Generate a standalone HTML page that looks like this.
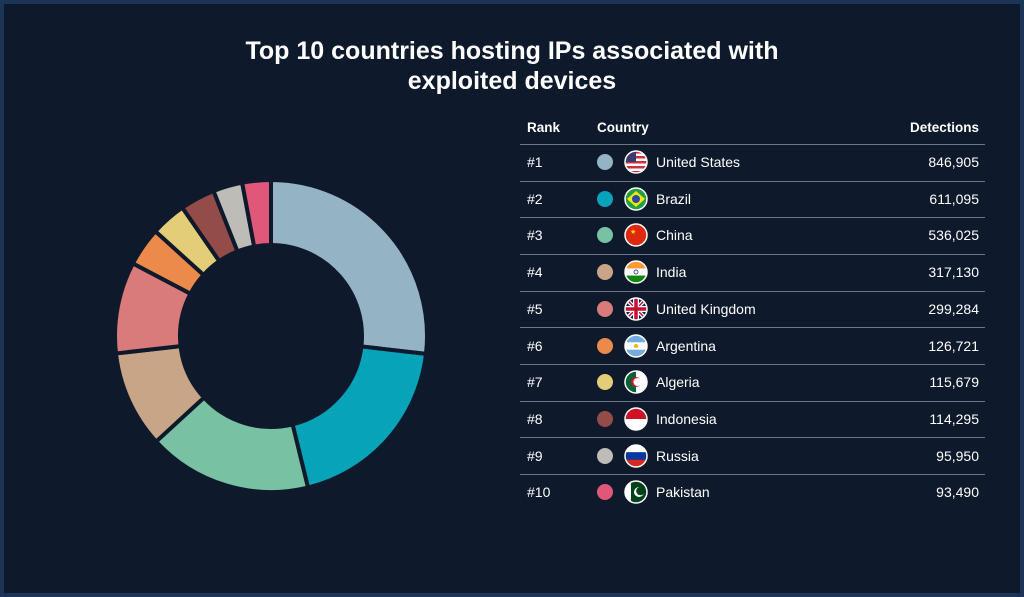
<!DOCTYPE html>
<html><head><meta charset="utf-8"><style>
html,body{margin:0;padding:0}
body{width:1024px;height:597px;background:#1c3457;font-family:"Liberation Sans",sans-serif;overflow:hidden}
#frame{position:absolute;left:4px;top:4px;width:1016px;height:589px;background:#0e1a2b}
#title{position:absolute;left:0;top:36px;width:1024px;text-align:center;color:#fff;font-weight:bold;font-size:25px;line-height:30px}
.t{position:absolute;color:#fff;font-size:14px}
.h{font-weight:bold;font-size:13.5px}
.line{position:absolute;left:520px;width:465px;height:1px;background:#6c7684}
</style></head><body>
<div id="frame"></div>
<div id="title">Top 10 countries hosting IPs associated with<br>exploited devices</div>
<svg id="donut" width="1024" height="597" style="position:absolute;left:0;top:0"></svg>
<div id="table"></div>
<script>
const countries=["United States","Brazil","China","India","United Kingdom","Argentina","Algeria","Indonesia","Russia","Pakistan"];
const detections=[846905,611095,536025,317130,299284,126721,115679,114295,95950,93490];
const colors=["#94b4c6","#06a3b9","#78c1a2","#c9a587","#d97a7b","#ec8a4b","#e3cd78","#934c48","#bdbcb6","#e0577a"];
const NS="http://www.w3.org/2000/svg";
const svg=document.getElementById('donut');
const cx=271,cy=336,R=156,r=91;
const total=detections.reduce((a,b)=>a+b,0);
let a0=0;
function pt(rad,a){return [cx+rad*Math.sin(a),cy-rad*Math.cos(a)];}
detections.forEach((v,i)=>{
  const a1=a0+v/total*2*Math.PI;
  const large=(a1-a0)>Math.PI?1:0;
  const [x1,y1]=pt(R,a0),[x2,y2]=pt(R,a1),[x3,y3]=pt(r,a1),[x4,y4]=pt(r,a0);
  const p=document.createElementNS(NS,'path');
  p.setAttribute('d',`M${x1},${y1}A${R},${R} 0 ${large} 1 ${x2},${y2}L${x3},${y3}A${r},${r} 0 ${large} 0 ${x4},${y4}Z`);
  p.setAttribute('fill',colors[i]);
  p.setAttribute('stroke','#0e1a2b');
  p.setAttribute('stroke-width','4');
  
  
  svg.appendChild(p);
  a0=a1;
});
const flags=[
 '<rect width="22" height="22" fill="#fff"/><g fill="#c8313e"><rect y="0" width="22" height="2.5"/><rect y="5" width="22" height="2.5"/><rect y="10" width="22" height="2.5"/><rect y="15" width="22" height="2.5"/><rect y="20" width="22" height="2.5"/></g><rect width="11" height="11" fill="#3c3b6e"/>',
 '<rect width="22" height="22" fill="#229e45"/><polygon points="11,3 20,11 11,19 2,11" fill="#f8e509"/><circle cx="11" cy="11" r="4" fill="#2b49a3"/>',
 '<rect width="22" height="22" fill="#de2910"/><text x="5" y="10" font-size="7" fill="#ffde00">★</text>',
 '<rect width="22" height="7.3" fill="#f93"/><rect y="7.3" width="22" height="7.4" fill="#fff"/><rect y="14.7" width="22" height="7.3" fill="#128807"/><circle cx="11" cy="11" r="2" fill="none" stroke="#008" stroke-width="0.7"/>',
 '<rect width="22" height="22" fill="#012169"/><path d="M0,0L22,22M22,0L0,22" stroke="#fff" stroke-width="4"/><path d="M0,0L22,22M22,0L0,22" stroke="#c8102e" stroke-width="1.5"/><path d="M11,0V22M0,11H22" stroke="#fff" stroke-width="6"/><path d="M11,0V22M0,11H22" stroke="#c8102e" stroke-width="3.5"/>',
 '<rect width="22" height="22" fill="#74acdf"/><rect y="7.3" width="22" height="7.4" fill="#fff"/><circle cx="11" cy="11" r="2" fill="#f6b40e"/>',
 '<rect width="11" height="22" fill="#006233"/><rect x="11" width="11" height="22" fill="#fff"/><circle cx="11" cy="11" r="5" fill="#d21034"/><circle cx="12.5" cy="11" r="4" fill="#fff"/>',
 '<rect width="22" height="11" fill="#ce1126"/><rect y="11" width="22" height="11" fill="#fff"/>',
 '<rect width="22" height="7.3" fill="#fff"/><rect y="7.3" width="22" height="7.4" fill="#0039a6"/><rect y="14.7" width="22" height="7.3" fill="#d52b1e"/>',
 '<rect width="22" height="22" fill="#01411c"/><rect width="6" height="22" fill="#fff"/><circle cx="14" cy="11" r="5" fill="#fff"/><circle cx="15.5" cy="10" r="4.3" fill="#01411c"/>'
];
const tb=document.getElementById('table');
let html='<div class="t h" style="left:527px;top:120px">Rank</div>'+
'<div class="t h" style="left:597px;top:120px">Country</div>'+
'<div class="t h" style="right:45px;top:120px">Detections</div>'+
'<div class="line" style="top:144px"></div>';
countries.forEach((c,i)=>{
  const y=162+i*36.7;
  html+=`<div class="t" style="left:527px;top:${y-8}px">#${i+1}</div>`;
  html+=`<div style="position:absolute;left:597px;top:${y-8}px;width:16px;height:16px;border-radius:50%;background:${colors[i]}"></div>`;
  html+=`<svg width="24" height="24" viewBox="-1 -1 24 24" style="position:absolute;left:624px;top:${y-12}px"><defs><clipPath id="c${i}"><circle cx="11" cy="11" r="11"/></clipPath></defs><g clip-path="url(#c${i})">${flags[i]}</g><circle cx="11" cy="11" r="11" fill="none" stroke="#fff" stroke-width="1.5"/></svg>`;
  html+=`<div class="t" style="left:656px;top:${y-8}px">${c}</div>`;
  html+=`<div class="t" style="right:45px;top:${y-8}px">${detections[i].toLocaleString('en-US')}</div>`;
  if(i<countries.length-1) html+=`<div class="line" style="top:${y+18.5}px"></div>`;
});
tb.innerHTML=html;
</script>
</body></html>
